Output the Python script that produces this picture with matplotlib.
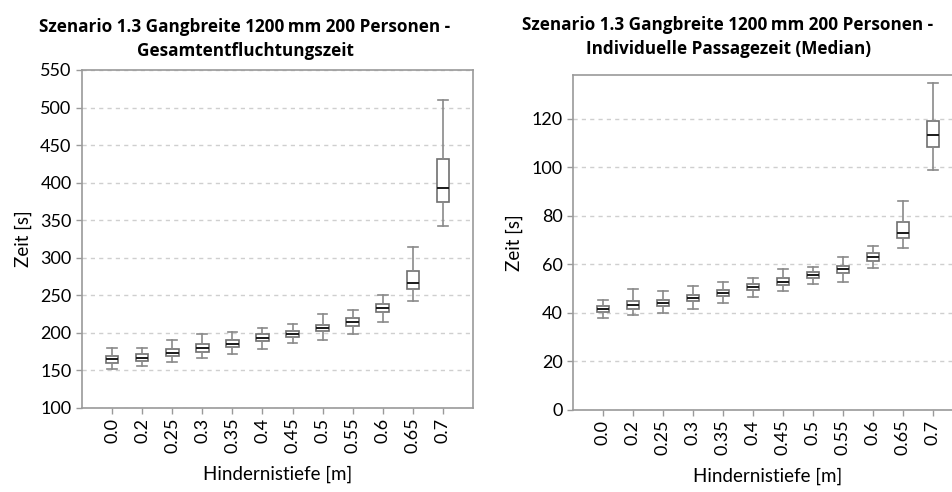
import matplotlib
matplotlib.use("Agg")
import matplotlib.pyplot as plt

# ── Data ───────────────────────────────────────────────────────────────────
labels = ["0.0", "0.2", "0.25", "0.3", "0.35", "0.4",
          "0.45", "0.5", "0.55", "0.6", "0.65", "0.7"]

# Gesamtentfluchtungszeit [s]
ges_lo  = [152, 156, 161, 167, 172, 178, 187, 190, 198, 215, 242, 342]
ges_q1  = [160, 162, 169, 175, 181, 189, 194, 202, 209, 228, 258, 374]
ges_med = [165, 167, 173, 180, 185, 193, 199, 207, 215, 233, 266, 393]
ges_q3  = [169, 172, 178, 185, 190, 198, 203, 211, 220, 238, 283, 432]
ges_hi  = [180, 180, 190, 199, 201, 207, 212, 225, 231, 250, 315, 510]

# Individuelle Passagezeit (Median) [s]
ind_lo  = [37.9, 39.1, 39.8, 41.8, 43.9, 46.7, 49.2, 51.8, 52.9, 58.4, 66.6, 99.0]
ind_q1  = [40.3, 41.8, 42.8, 44.9, 47.0, 49.4, 51.6, 54.3, 56.3, 61.5, 70.7, 108.3]
ind_med = [41.6, 43.2, 43.9, 46.3, 48.3, 50.8, 52.9, 55.7, 58.0, 63.2, 72.8, 113.3]
ind_q3  = [42.7, 44.9, 45.3, 47.4, 49.4, 51.7, 54.3, 57.0, 59.3, 64.6, 77.4, 119.2]
ind_hi  = [45.4, 49.8, 49.0, 51.2, 52.6, 54.2, 58.0, 58.8, 63.2, 67.6, 86.3, 134.6]

plt.rcParams["font.family"] = ["Lato", "DejaVu Sans"]

GRAY = "#9a9a9a"


def make_stats(lo, q1, med, q3, hi):
    return [dict(whislo=a, q1=b, med=c, q3=d, whishi=e, fliers=[])
            for a, b, c, d, e in zip(lo, q1, med, q3, hi)]


def draw_panel(ax, stats, ylim, yticks):
    pos = list(range(1, len(labels) + 1))
    ax.bxp(stats, positions=pos, widths=0.42, patch_artist=True,
           showfliers=False,
           boxprops=dict(facecolor="white", edgecolor="#6f6f6f", linewidth=1.2),
           whiskerprops=dict(color="#8a8a8a", linewidth=1.2),
           capprops=dict(color="#8a8a8a", linewidth=1.2),
           capwidths=0.32,
           medianprops=dict(color="#1a1a1a", linewidth=1.4))
    ax.set_xlim(0, 13)
    ax.set_ylim(*ylim)
    ax.set_yticks(yticks)
    ax.set_xticks(pos)
    ax.set_xticklabels(labels, rotation=90, fontsize=13)
    ax.tick_params(axis="y", labelsize=13, length=4, color=GRAY, width=1)
    ax.tick_params(axis="x", length=4, color=GRAY, width=1, pad=3)
    ax.yaxis.grid(True, linestyle=(0, (3, 3)), color="#cfcfcf", linewidth=1)
    ax.set_axisbelow(True)
    for s in ax.spines.values():
        s.set_color(GRAY)
        s.set_linewidth(1.2)
    ax.set_xlabel("Hindernistiefe [m]", fontsize=13.5, labelpad=9)
    ax.set_ylabel("Zeit [s]", fontsize=13.5, labelpad=6)


fig = plt.figure(figsize=(9.53, 4.92), dpi=100)

ax1 = fig.add_axes([82 / 953, 1 - 408 / 492, 391 / 953, 338 / 492])
draw_panel(ax1, make_stats(ges_lo, ges_q1, ges_med, ges_q3, ges_hi),
           (100, 550), range(100, 551, 50))

ax2 = fig.add_axes([573 / 953, 1 - 410 / 492, 390 / 953, 335 / 492])
draw_panel(ax2, make_stats(ind_lo, ind_q1, ind_med, ind_q3, ind_hi),
           (0, 138), range(0, 121, 20))

title_font = dict(ha="center", va="center", fontsize=12.3, fontweight="bold",
                  family=["Open Sans", "DejaVu Sans"], linespacing=1.5)
fig.text(245 / 953, 1 - 39 / 492,
         "Szenario 1.3 Gangbreite 1200\u2009mm 200 Personen -\nGesamtentfluchtungszeit",
         **title_font)
fig.text(728 / 953, 1 - 37 / 492,
         "Szenario 1.3 Gangbreite 1200\u2009mm 200 Personen -\nIndividuelle Passagezeit (Median)",
         **title_font)

fig.savefig("out.png", dpi=100)
